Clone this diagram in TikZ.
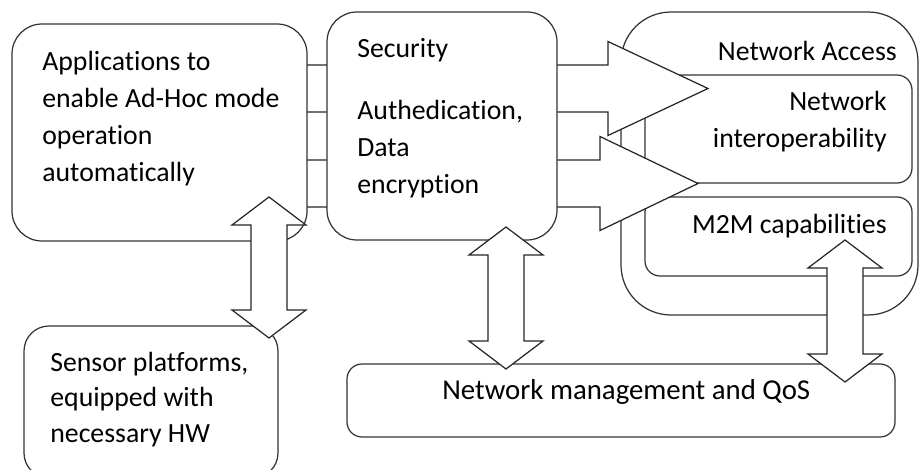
\documentclass[tikz,border=0pt]{standalone}
\usepackage{fontspec}
\setmainfont[Ligatures=NoCommon]{Carlito}
\usetikzlibrary{calc,fit}

% block arrows
\newcommand{\updown}[2]{%
  \draw[blk] (#1) -- ++(37,28) -- ++(-19,0) -- ($(#2)+(18,-28)$) -- ++(19,0)
    -- (#2) -- ++(-37,-28) -- ++(19,0) -- ($(#1)+(-18,28)$) -- ++(-19,0) -- cycle;}
\newcommand{\rblock}[3]{%
  \draw[blk] ($(#1)+(0,-23.5)$) -- ($(#2)+(-#3,-23.5)$) -- ++(0,-23.5) -- (#2)
    -- ($(#2)+(-#3,47)$) -- ++(0,-23.5) -- ($(#1)+(0,23.5)$) -- cycle;}

\begin{document}
\begin{tikzpicture}[x=0.02cm,y=-0.02cm,
    box/.style={draw=black!80,line width=0.7pt,fill=white,inner sep=0pt},
    blk/.style={draw=black!85,line width=0.7pt,fill=white,line join=miter},
    txt/.style={font=\fontsize{15.8}{21}\selectfont,inner sep=0pt}]
  \useasboundingbox (0,0) rectangle (920,470);

  % network access group
  \node[box,rounded corners=1cm,fit={(621,12) (918,315)}] (netacc) {};
  \node[box,rounded corners=0.3cm,fit={(645,75) (912,183)}] (interop) {};
  \node[box,rounded corners=0.3cm,fit={(645,197) (912,276)}] (mtm) {};
  \node[box,rounded corners=0.3cm,fit={(347,364) (895,437)}] (mgmt) {};
  \node[box,rounded corners=0.5cm,fit={(24,326) (278,478)}] (sensor) {};

  \node[txt,anchor=base east] (netacctxt) at (897,60) {Network Access};
  \node[txt,anchor=base east,align=right] (interoptxt) at (887,147) {Network\\interoperability};
  \node[txt,anchor=base east] (mtmtxt) at (887,233) {M2M capabilities};
  \node[txt,anchor=base west,font=\fontsize{16.4}{21}\selectfont] (mgmttxt) at (442,399)
    {Network management and QoS};
  \node[txt,anchor=base west,align=left,font=\fontsize{15.8}{20}\selectfont] (sensortxt) at (50,442)
    {Sensor platforms,\\equipped with\\necessary HW};

  % arrows into network access
  \coordinate (tailA) at (200,88.5);
  \coordinate (tipA) at (708,88.5);
  \coordinate (tailB) at (200,183.5);
  \coordinate (tipB) at (698,183.5);
  \rblock{tailA}{tipA}{100}
  \rblock{tailB}{tipB}{98}

  % applications and security
  \node[box,rounded corners=0.6cm,fit={(12,24) (307,241)}] (app) {};
  \node[box,rounded corners=0.6cm,fit={(327,12) (557,240)}] (sec) {};
  \node[txt,anchor=base west,align=left] (apptxt) at (42,181)
    {Applications to\\enable Ad-Hoc mode\\operation\\automatically};
  \node[txt,anchor=base west] (sectxt) at (357,57) {Security};
  \node[txt,anchor=base west,align=left] (enctxt) at (357,193) {Authedication,\\Data\\encryption};

  % two-way arrows
  \coordinate (appdn) at (269,197);
  \coordinate (sensorup) at (269,338);
  \coordinate (secdn) at (506,227);
  \coordinate (mgmtup) at (506,369);
  \coordinate (mtmdn) at (845,240);
  \coordinate (mgmtup2) at (845,382);
  \updown{appdn}{sensorup}
  \updown{secdn}{mgmtup}
  \updown{mtmdn}{mgmtup2}
\end{tikzpicture}
\end{document}
